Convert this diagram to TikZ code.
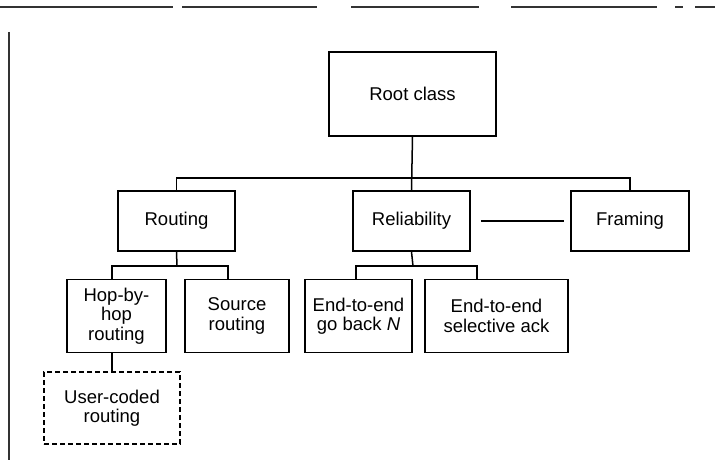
\documentclass[tikz,border=0pt]{standalone}
\usepackage{fontspec}
\setmainfont{Liberation Sans}
\begin{document}
\begin{tikzpicture}[x=1pt,y=-1pt,
  box/.style={draw,line width=1.6pt,inner sep=0pt,align=center,
    font=\fontsize{18.5}{19.5}\selectfont},
  optbox/.style={box,line width=1.2pt,dash pattern=on 5pt off 3pt},
  conn/.style={line width=1.5pt},
  scan/.style={line width=1.2pt,black!80}]
\useasboundingbox (0,0) rectangle (715,460);
% scan edge marks
\draw[scan] (0,7) -- (173,7) (182,7) -- (317,7) (351,7) -- (479,7)
  (511,7) -- (657,7) (675,7) -- (683,7) (695,7) -- (715,7);
\draw[scan] (9,32) -- (9,460);
% boxes
\node[box,minimum width=167pt,minimum height=84pt] (root) at (412.5,94) {Root class};
\node[box,minimum width=117pt,minimum height=60pt] (routing) at (176.5,221) {Routing};
\node[box,minimum width=117pt,minimum height=60pt] (reliab) at (411.5,221) {Reliability};
\node[box,minimum width=118pt,minimum height=60pt] (framing) at (630,221) {Framing};
\node[box,minimum width=99pt,minimum height=73pt] (hop) at (116.5,316) {Hop-by-\\hop\\routing};
\node[box,minimum width=104pt,minimum height=73pt] (source) at (237,316) {Source\\routing};
\node[box,minimum width=107pt,minimum height=73pt] (gbn) at (358.5,316) {End-to-end\\go back \textit{N}};
\node[box,minimum width=143pt,minimum height=73pt] (sack) at (496.5,316) {End-to-end\\selective ack};
\node[optbox,minimum width=136pt,minimum height=72pt] (user) at (112,408) {User-coded\\routing};
% connectors
\coordinate (rb) at (177,266);
\coordinate (lb) at (413,266);
\draw[conn] (root.south) -- (reliab.north);
\draw[conn] (routing.north) -- ++(0,-12) -| (framing.north);
\draw[conn,shorten <=10pt,shorten >=6pt] (reliab.east) -- (framing.west);
\draw[conn] (routing.south) -- (rb);
\draw[conn] ([xshift=-4.5pt]hop.north) |- (rb) -| ([xshift=-9pt]source.north);
\draw[conn] (reliab.south) -- (lb);
\draw[conn] ([xshift=-2.5pt]gbn.north) |- (lb) -| ([xshift=-19.5pt]sack.north);
\draw[conn] (user.north) -- (user.north |- hop.south);
\end{tikzpicture}
\end{document}
